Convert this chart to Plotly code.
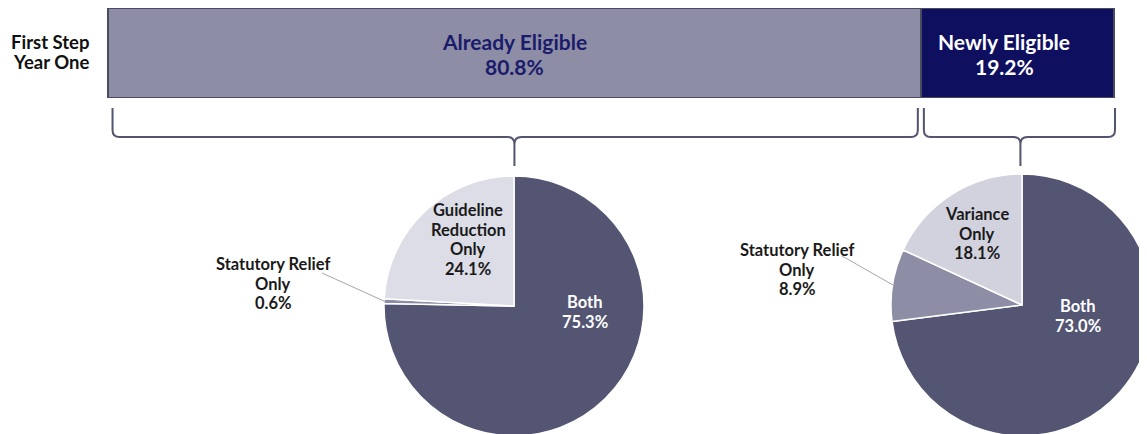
import plotly.graph_objects as go

# The page body keeps the browser's default 8px margin, so the figure is
# drawn 8px right / 8px down of the window corner. Positions below are
# given in window pixels and converted.
OFF = 8
W, H = 1155, 442

# ---------------- data ----------------
row_label_lines = ["First Step", "Year One"]
bar_labels = ["Already Eligible", "Newly Eligible"]
bar_values = [80.8, 19.2]

pie1_labels = ["Both", "Statutory Relief Only", "Guideline Reduction Only"]
pie1_lines = [["Both"], ["Statutory Relief", "Only"], ["Guideline", "Reduction", "Only"]]
pie1_values = [75.3, 0.6, 24.1]

pie2_labels = ["Both", "Statutory Relief Only", "Variance Only"]
pie2_lines = [["Both"], ["Statutory Relief", "Only"], ["Variance", "Only"]]
pie2_values = [73.0, 8.9, 18.1]

# ---------------- styles ----------------
FONT = "Lato"
BAR_COLORS = ["#8d8da6", "#0f0f60"]
BAR_TEXT = ["#1b1b6b", "#ffffff"]
BAR_EDGE = "#4a4b5e"
PIE1_COLORS = ["#535572", "#8d8da6", "#dcdde6"]
PIE2_COLORS = ["#535572", "#8d8da6", "#d2d2de"]
PIE_TEXT = ["#ffffff", "#1a1a1a", "#1a1a1a"]


def sx(x):
    return (x - OFF) / W


def sy(y):
    return 1 - (y - OFF) / H


bar_x0, bar_x1 = 108, 1114
bar_top, bar_bot = 8, 98
unit = (bar_x1 - bar_x0) / 100.0  # pixels per percent


def d(p):
    return p / unit


PAD = 4  # px of breathing room so outlines are not clipped

fig = go.Figure()

for lab, val, col in zip(bar_labels, bar_values, BAR_COLORS):
    fig.add_trace(go.Bar(
        y=["row"], x=[val], orientation="h", name=lab,
        marker=dict(color=col, line=dict(color=BAR_EDGE, width=2)),
        width=1, hoverinfo="skip", showlegend=False,
    ))


def add_pie(labels, values, colors, cx, cy, r):
    fig.add_trace(go.Pie(
        labels=labels, values=values, sort=False, direction="clockwise",
        rotation=0, textinfo="none", hoverinfo="skip", showlegend=False,
        marker=dict(colors=colors, line=dict(color="#ffffff", width=1.5)),
        domain=dict(x=[sx(cx - r), sx(cx + r)], y=[sy(cy + r), sy(cy - r)]),
    ))


add_pie(pie1_labels, pie1_values, PIE1_COLORS, 514, 306, 130)
add_pie(pie2_labels, pie2_values, PIE2_COLORS, 1022, 305, 131)

annotations = []


def add_lines(lines, x, y0, step, size, color, xanchor="center"):
    for i, t in enumerate(lines):
        annotations.append(dict(
            x=sx(x), y=sy(y0 + i * step),
            xref="paper", yref="paper", xanchor=xanchor, yanchor="middle",
            text=f"<b>{t}</b>", showarrow=False,
            font=dict(family=FONT, size=size, color=color),
        ))


# row label
add_lines(row_label_lines, 91, 42, 20, 18.5, "#111111", xanchor="right")

# bar segment labels, centred on each segment (data x) with small nudges
cum = 0
nudges = [0, -13]
for lab, val, tc, nd in zip(bar_labels, bar_values, BAR_TEXT, nudges):
    mid = cum + val / 2
    for i, t in enumerate([lab, f"{val:.1f}%"]):
        annotations.append(dict(
            x=mid, y=sy(42 + i * 24.3), xref="x", yref="paper", xshift=nd,
            yanchor="middle", text=f"<b>{t}</b>", showarrow=False,
            font=dict(family=FONT, size=21, color=tc),
        ))
    cum += val

# pie labels: (centre x, first-line centre y) in window pixels
pie1_pos = [(585, 302), (273, 264), (468, 210)]
pie2_pos = [(1078, 306), (797, 250), (977, 214)]
for lines_set, vals, pos in ((pie1_lines, pie1_values, pie1_pos),
                             (pie2_lines, pie2_values, pie2_pos)):
    for lines, v, (x, y), tc in zip(lines_set, vals, pos, PIE_TEXT):
        add_lines(lines + [f"{v:.1f}%"], x, y, 19.6, 16.5, tc)

shapes = []
# leader lines
for (x0, y0, x1, y1) in [(322, 273, 386, 302), (842, 256, 893, 285)]:
    shapes.append(dict(type="line", xref="paper", yref="paper",
                       x0=sx(x0), y0=sy(y0), x1=sx(x1), y1=sy(y1),
                       line=dict(color="#a6a6a6", width=1)))

# braces under each bar segment (data x, paper y)
yt, yh, yb = sy(108), sy(137), sy(166)
ry = 7 / H
cum = 0
insets = [(0.45, 0.3), (0.3, -0.1)]
for val, (il, ir) in zip(bar_values, insets):
    a = cum + il
    b = cum + val - ir
    m = cum + val / 2 + (0 if cum == 0 else d(3))
    rx = d(7)
    path = (f"M {a},{yt} L {a},{yh + ry} Q {a},{yh} {a + rx},{yh} "
            f"L {m - rx},{yh} Q {m},{yh} {m},{yh - ry} L {m},{yb} "
            f"M {m},{yh - ry} Q {m},{yh} {m + rx},{yh} "
            f"L {b - rx},{yh} Q {b},{yh} {b},{yh + ry} L {b},{yt}")
    shapes.append(dict(type="path", xref="x", yref="paper", path=path,
                       line=dict(color="#525470", width=2)))
    cum += val

fig.update_layout(
    width=W, height=H, margin=dict(l=0, r=0, t=0, b=0),
    paper_bgcolor="#ffffff", plot_bgcolor="rgba(0,0,0,0)",
    barmode="stack", bargap=0,
    xaxis=dict(domain=[sx(bar_x0 - PAD), sx(bar_x1 + PAD)],
               range=[-d(PAD), 100 + d(PAD)], visible=False, fixedrange=True),
    yaxis=dict(domain=[sy(bar_bot), sy(bar_top)], range=[-0.5, 0.5],
               visible=False, fixedrange=True),
    annotations=annotations, shapes=shapes,
    font=dict(family=FONT),
)

fig.write_html("out.html", config={"displayModeBar": False})
